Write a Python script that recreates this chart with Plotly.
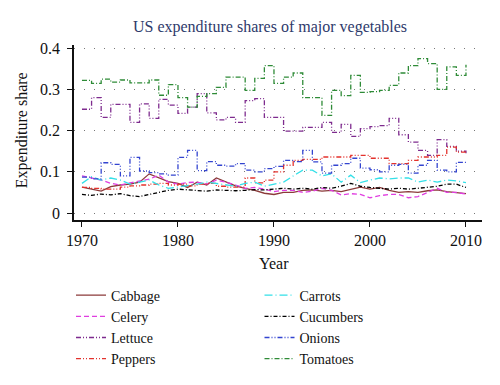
import plotly.graph_objects as go

years = list(range(1970, 2011))

cabbage = [0.063, 0.058, 0.053, 0.064, 0.068, 0.070, 0.075, 0.095, 0.085, 0.076,
           0.072, 0.062, 0.075, 0.068, 0.085, 0.075, 0.066, 0.060, 0.055, 0.048,
           0.045, 0.050, 0.050, 0.055, 0.056, 0.053, 0.055, 0.052, 0.058, 0.063,
           0.058, 0.062, 0.055, 0.050, 0.052, 0.050, 0.054, 0.056, 0.052, 0.050, 0.047]
celery = [0.090, 0.085, 0.080, 0.072, 0.068, 0.073, 0.078, 0.082, 0.092, 0.075,
          0.070, 0.074, 0.075, 0.070, 0.080, 0.075, 0.068, 0.060, 0.062, 0.058,
          0.052, 0.055, 0.055, 0.050, 0.053, 0.060, 0.055, 0.044, 0.047, 0.045,
          0.037, 0.042, 0.045, 0.045, 0.037, 0.040, 0.050, 0.060, 0.050, 0.050, 0.046]
lettuce = [0.252, 0.280, 0.232, 0.264, 0.264, 0.220, 0.265, 0.230, 0.276, 0.262,
           0.242, 0.257, 0.290, 0.243, 0.226, 0.232, 0.220, 0.273, 0.278, 0.232,
           0.232, 0.199, 0.199, 0.208, 0.208, 0.220, 0.196, 0.215, 0.186, 0.205,
           0.210, 0.212, 0.230, 0.190, 0.172, 0.152, 0.140, 0.178, 0.162, 0.150, 0.145]
peppers = [0.062, 0.060, 0.058, 0.058, 0.063, 0.066, 0.068, 0.070, 0.072, 0.068,
           0.070, 0.066, 0.070, 0.072, 0.065, 0.063, 0.063, 0.085, 0.073, 0.080,
           0.100, 0.116, 0.128, 0.130, 0.130, 0.136, 0.136, 0.136, 0.140, 0.140,
           0.133, 0.133, 0.120, 0.120, 0.128, 0.136, 0.136, 0.140, 0.160, 0.148, 0.148]
carrots = [0.072, 0.088, 0.080, 0.085, 0.080, 0.070, 0.075, 0.080, 0.068, 0.060,
           0.063, 0.066, 0.070, 0.075, 0.072, 0.068, 0.065, 0.072, 0.075, 0.065,
           0.070, 0.075, 0.090, 0.104, 0.104, 0.090, 0.095, 0.075, 0.092, 0.074,
           0.080, 0.085, 0.083, 0.085, 0.085, 0.075, 0.080, 0.075, 0.080, 0.078, 0.074]
cucumbers = [0.045, 0.043, 0.046, 0.044, 0.047, 0.042, 0.040, 0.045, 0.050, 0.055,
             0.058, 0.056, 0.055, 0.053, 0.056, 0.055, 0.054, 0.055, 0.057, 0.056,
             0.058, 0.060, 0.058, 0.060, 0.058, 0.062, 0.060, 0.065, 0.072, 0.065,
             0.062, 0.060, 0.058, 0.060, 0.058, 0.060, 0.062, 0.065, 0.070, 0.070, 0.062]
onions = [0.087, 0.083, 0.122, 0.118, 0.090, 0.135, 0.102, 0.098, 0.095, 0.092,
          0.135, 0.152, 0.103, 0.125, 0.116, 0.114, 0.120, 0.104, 0.100, 0.108,
          0.113, 0.128, 0.125, 0.152, 0.124, 0.097, 0.116, 0.120, 0.133, 0.109,
          0.105, 0.100, 0.116, 0.118, 0.097, 0.116, 0.128, 0.104, 0.100, 0.123, 0.123]
tomatoes = [0.322, 0.315, 0.325, 0.318, 0.323, 0.316, 0.316, 0.323, 0.286, 0.312,
            0.280, 0.257, 0.283, 0.290, 0.305, 0.330, 0.330, 0.298, 0.327, 0.358,
            0.315, 0.330, 0.340, 0.280, 0.280, 0.237, 0.298, 0.285, 0.334, 0.293,
            0.295, 0.298, 0.310, 0.340, 0.358, 0.375, 0.363, 0.300, 0.355, 0.334, 0.360]

y_ticks = [0, 0.1, 0.2, 0.3, 0.4]
y_labels = ["0", "0.1", "0.2", "0.3", "0.4"]
x_ticks = [1970, 1980, 1990, 2000, 2010]

FONT = "Liberation Serif"

series = [
    ("Cabbage", cabbage, "#8b3a3a", "solid", "linear", "legend"),
    ("Celery", celery, "#e03ee0", "5px,3px", "linear", "legend"),
    ("Lettuce", lettuce, "#7e2b8e", "5px,2px,1px,2px,1px,2px", "hv", "legend"),
    ("Peppers", peppers, "#e3322d", "5px,2px,1px,2px,1px,2px", "hv", "legend"),
    ("Carrots", carrots, "#33e0e8", "8px,3px,1px,3px", "linear", "legend2"),
    ("Cucumbers", cucumbers, "#000000", "4px,2px,1px,2px", "linear", "legend2"),
    ("Onions", onions, "#3344d0", "5px,2px,1px,2px,1px,2px", "hv", "legend2"),
    ("Tomatoes", tomatoes, "#2e8b37", "5px,2px,1px,2px", "hv", "legend2"),
]

fig = go.Figure()
for name, vals, color, dash, shape, leg in series:
    fig.add_trace(go.Scatter(
        x=years, y=vals, mode="lines", name=name,
        line=dict(color=color, width=1.3, dash=dash, shape=shape),
        legend=leg,
    ))

legend_common = dict(
    font=dict(family=FONT, size=14, color="#111"),
    bgcolor="rgba(0,0,0,0)",
    orientation="v",
    xref="container", yref="container",
    yanchor="top",
    xanchor="left",
    tracegroupgap=0,
    itemwidth=30,
)

fig.update_layout(
    width=500, height=385,
    margin=dict(l=74, r=18, t=45, b=165, autoexpand=False),
    paper_bgcolor="white",
    plot_bgcolor="white",
    title=dict(text="US expenditure shares of major vegetables",
               font=dict(family=FONT, size=16, color="#2e3a6b"),
               xref="container", yref="container",
               x=0.54, xanchor="center", y=0.932, yanchor="middle"),
    font=dict(family=FONT, size=15, color="#111"),
    legend=dict(x=0.142, y=0.274, **legend_common),
    legend2=dict(x=0.519, y=0.274, **legend_common),
    showlegend=True,
    annotations=[
        dict(text="Expenditure share", xref="paper", yref="paper",
             x=-0.127, y=0.514, xanchor="center", yanchor="middle",
             textangle=-90, showarrow=False,
             font=dict(family=FONT, size=16, color="#111")),
        dict(text="Year", xref="paper", yref="paper",
             x=0.49, y=-0.251, xanchor="center", yanchor="middle",
             showarrow=False,
             font=dict(family=FONT, size=16, color="#111")),
    ],
)

fig.update_xaxes(
    range=[1969.17, 2011.67],
    tickvals=x_ticks,
    ticks="outside", ticklen=5, tickwidth=1.2, tickcolor="#111",
    showline=True, linecolor="#111", linewidth=1.5,
    showgrid=False, zeroline=False,
    tickfont=dict(family=FONT, size=16),
)
fig.update_yaxes(
    range=[-0.017, 0.408],
    tickvals=y_ticks, ticktext=y_labels,
    ticks="outside", ticklen=5, tickwidth=1.2, tickcolor="#111",
    ticklabelstandoff=4,
    showline=True, linecolor="#111", linewidth=1.5,
    showgrid=True, gridcolor="#777", gridwidth=1, griddash="1px,9px",
    zeroline=False,
    tickfont=dict(family=FONT, size=16),
)

fig.write_html("out.html", config={"displayModeBar": False},
               post_script="document.body.style.margin='0';")
